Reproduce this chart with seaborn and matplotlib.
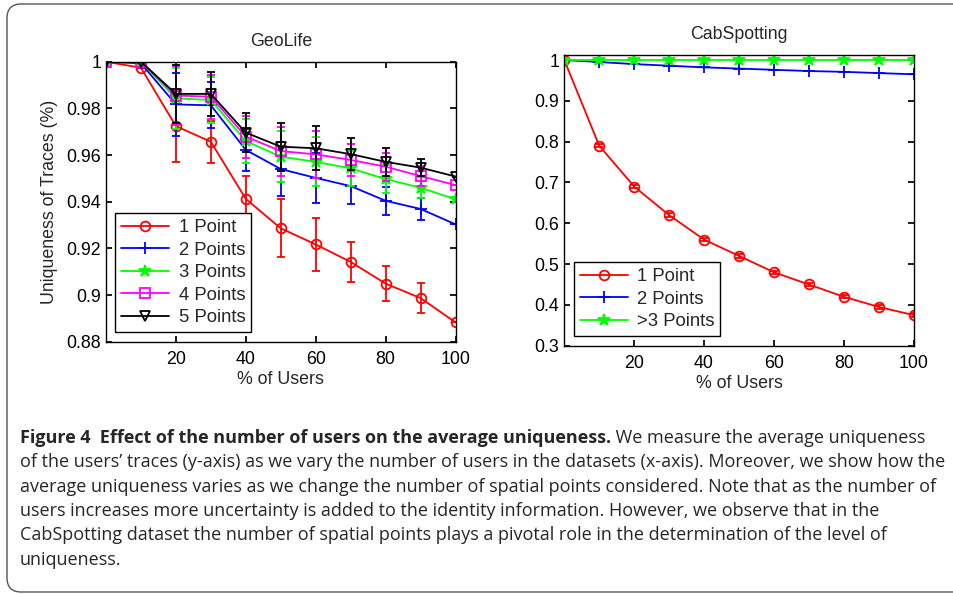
import numpy as np
import pandas as pd
import seaborn as sns
import matplotlib
matplotlib.use("Agg")
import matplotlib.pyplot as plt
from matplotlib import font_manager
from matplotlib.patches import FancyBboxPatch
from matplotlib.ticker import FormatStrFormatter

### data
users = [0, 10, 20, 30, 40, 50, 60, 70, 80, 90, 100]

geo_1 = [1.0, 0.9974, 0.9724, 0.9657, 0.9412, 0.9286, 0.9217, 0.9142, 0.9049, 0.8987, 0.8883]
geo_1_err = [0, 0, 0.0153, 0.009, 0.0099, 0.0125, 0.0113, 0.0085, 0.0076, 0.0065, 0]
geo_2 = [1.0, 0.9993, 0.9817, 0.9813, 0.9622, 0.954, 0.9502, 0.9467, 0.9404, 0.9369, 0.9303]
geo_2_err = [0, 0, 0.0134, 0.0099, 0.009, 0.0115, 0.0106, 0.0076, 0.006, 0.0047, 0]
geo_3 = [1.0, 1.0, 0.9843, 0.9836, 0.966, 0.9593, 0.9571, 0.9543, 0.9497, 0.946, 0.941]
geo_3_err = [0, 0, 0.013, 0.0097, 0.0095, 0.011, 0.0105, 0.0075, 0.006, 0.0045, 0]
geo_4 = [1.0, 1.0, 0.9855, 0.985, 0.9679, 0.9617, 0.9603, 0.9579, 0.955, 0.951, 0.9471]
geo_4_err = [0, 0, 0.0128, 0.0095, 0.009, 0.0105, 0.01, 0.007, 0.006, 0.0042, 0]
geo_5 = [1.0, 1.0, 0.9862, 0.9862, 0.9696, 0.9636, 0.9629, 0.9604, 0.9571, 0.9546, 0.9508]
geo_5_err = [0, 0, 0.0126, 0.0093, 0.0085, 0.0103, 0.0095, 0.0068, 0.006, 0.0037, 0]

cab_1 = [1.0, 0.79, 0.69, 0.62, 0.56, 0.52, 0.48, 0.45, 0.42, 0.395, 0.375]
cab_1_err = [0, 0.004, 0.004, 0.004, 0.004, 0.004, 0.004, 0.004, 0.004, 0.004, 0.004]
cab_2 = [1.0, 0.995, 0.99, 0.986, 0.982, 0.979, 0.976, 0.973, 0.971, 0.968, 0.965]
cab_3 = [1.0, 1.0, 1.0, 1.0, 1.0, 1.0, 1.0, 1.0, 1.0, 1.0, 1.0]

geo_labels = ["1 Point", "2 Points", "3 Points", "4 Points", "5 Points"]
cab_labels = ["1 Point", "2 Points", ">3 Points"]

caption_bold = "Figure 4  Effect of the number of users on the average uniqueness."
caption_lines = [
    " We measure the average uniqueness",
    "of the users\u2019 traces (y-axis) as we vary the number of users in the datasets (x-axis). Moreover, we show how the",
    "average uniqueness varies as we change the number of spatial points considered. Note that as the number of",
    "users increases more uncertainty is added to the identity information. However, we observe that in the",
    "CabSpotting dataset the number of spatial points plays a pivotal role in the determination of the level of",
    "uniqueness.",
]

colors = ["#ff0000", "#0000ff", "#00ff00", "#ff00ff", "#000000"]
markers = ["o", "+", "*", "s", "v"]
msizes = [7, 9, 9, 6.5, 7.5]
filled = [False, True, True, False, False]

sns.set_theme(style="ticks")
plt.rcParams['font.family'] = ['Liberation Sans', 'DejaVu Sans']
plt.rcParams.update({
    "axes.edgecolor": "black",
    "axes.linewidth": 1.0,
    "xtick.direction": "in",
    "ytick.direction": "in",
    "xtick.top": True,
    "ytick.right": True,
    "xtick.major.size": 4,
    "ytick.major.size": 4,
    "xtick.color": "black",
    "ytick.color": "black",
    "font.size": 12.5,
    "axes.titlesize": 12.8,
    "axes.labelsize": 12.8,
    "xtick.labelsize": 12.8,
    "ytick.labelsize": 12.8,
    "legend.fontsize": 13.3,
})


def draw_series(ax, y, err, label, i):
    df = pd.DataFrame({"users": users, "uniq": y})
    c = colors[i]
    sns.lineplot(data=df, x="users", y="uniq", ax=ax, color=c, linewidth=1.3,
                 marker=markers[i], markersize=msizes[i],
                 markerfacecolor=c if filled[i] and markers[i] != "+" else "none",
                 markeredgecolor=c, markeredgewidth=1.3, label=label)
    if err is not None:
        ax.errorbar(users, y, yerr=err, fmt="none", ecolor=c, elinewidth=1.3,
                    capsize=3, capthick=1.3)


def style_axes(ax, title):
    ax.set_xlim(0, 100)
    ax.set_xticks([20, 40, 60, 80, 100])
    ax.yaxis.set_major_formatter(FormatStrFormatter("%g"))
    ax.set_title(title, pad=11)
    ax.set_xlabel("% of Users", labelpad=2)
    ax.tick_params(axis="x", pad=7)
    leg = ax.legend(loc="lower left", frameon=True, fancybox=False, edgecolor="black",
                    framealpha=1, handlelength=2.6, handletextpad=0.5,
                    labelspacing=0.3, borderpad=0.33, borderaxespad=0.5)
    leg.get_frame().set_linewidth(1.0)
    for s in ax.spines.values():
        s.set_color("black")


fig = plt.figure(figsize=(9.54, 5.94), dpi=100)
ax1 = fig.add_axes([0.1111, 0.4247, 0.3664, 0.4714])
ax2 = fig.add_axes([0.5915, 0.418, 0.3662, 0.4899])

geo = [(geo_1, geo_1_err), (geo_2, geo_2_err), (geo_3, geo_3_err),
       (geo_4, geo_4_err), (geo_5, geo_5_err)]
for i, (y, e) in enumerate(geo):
    draw_series(ax1, y, e, geo_labels[i], i)
ax1.set_ylim(0.88, 1.0)
ax1.set_yticks(np.arange(0.88, 1.001, 0.02))
ax1.set_ylabel("Uniqueness of Traces (%)", labelpad=6)
style_axes(ax1, "GeoLife")

cab = [(cab_1, cab_1_err), (cab_2, None), (cab_3, None)]
for i, (y, e) in enumerate(cab):
    draw_series(ax2, y, e, cab_labels[i], i)
ax2.set_ylim(0.3, 1.013)
ax2.set_yticks(np.arange(0.3, 1.001, 0.1))
ax2.set_ylabel("")
style_axes(ax2, "CabSpotting")

### rounded frame round the figure + caption
frame = FancyBboxPatch((7 / 954, 2 / 594), 1.2, 588 / 594,
                       boxstyle="round,pad=0,rounding_size=0.015",
                       transform=fig.transFigure, fill=False,
                       edgecolor="#555555", linewidth=1.0, mutation_aspect=954 / 594)
fig.add_artist(frame)

names = {f.name for f in font_manager.fontManager.ttflist}
cap_family = next((n for n in ["Liberation Sans Narrow", "DejaVu Sans Condensed", "Open Sans"]
                   if n in names), "DejaVu Sans")

renderer = fig.canvas.get_renderer()
probe = fig.text(0, 0, caption_lines[1], fontsize=12, family=cap_family)
w = probe.get_window_extent(renderer).width
probe.remove()
cap_size = 12 * 925 / w

line_y = [438, 462.3, 486.6, 511, 535.3, 559.6]
x0 = 20 / 954
bold = fig.text(x0, 1 - line_y[0] / 594, caption_bold, fontsize=cap_size,
                family=cap_family, weight="bold", va="center")
bx = bold.get_window_extent(renderer).x1 / fig.bbox.width
fig.text(bx, 1 - line_y[0] / 594, caption_lines[0], fontsize=cap_size,
         family=cap_family, va="center")
for k in range(1, 6):
    fig.text(x0, 1 - line_y[k] / 594, caption_lines[k], fontsize=cap_size,
             family=cap_family, va="center")

fig.savefig("out.png", dpi=100)
